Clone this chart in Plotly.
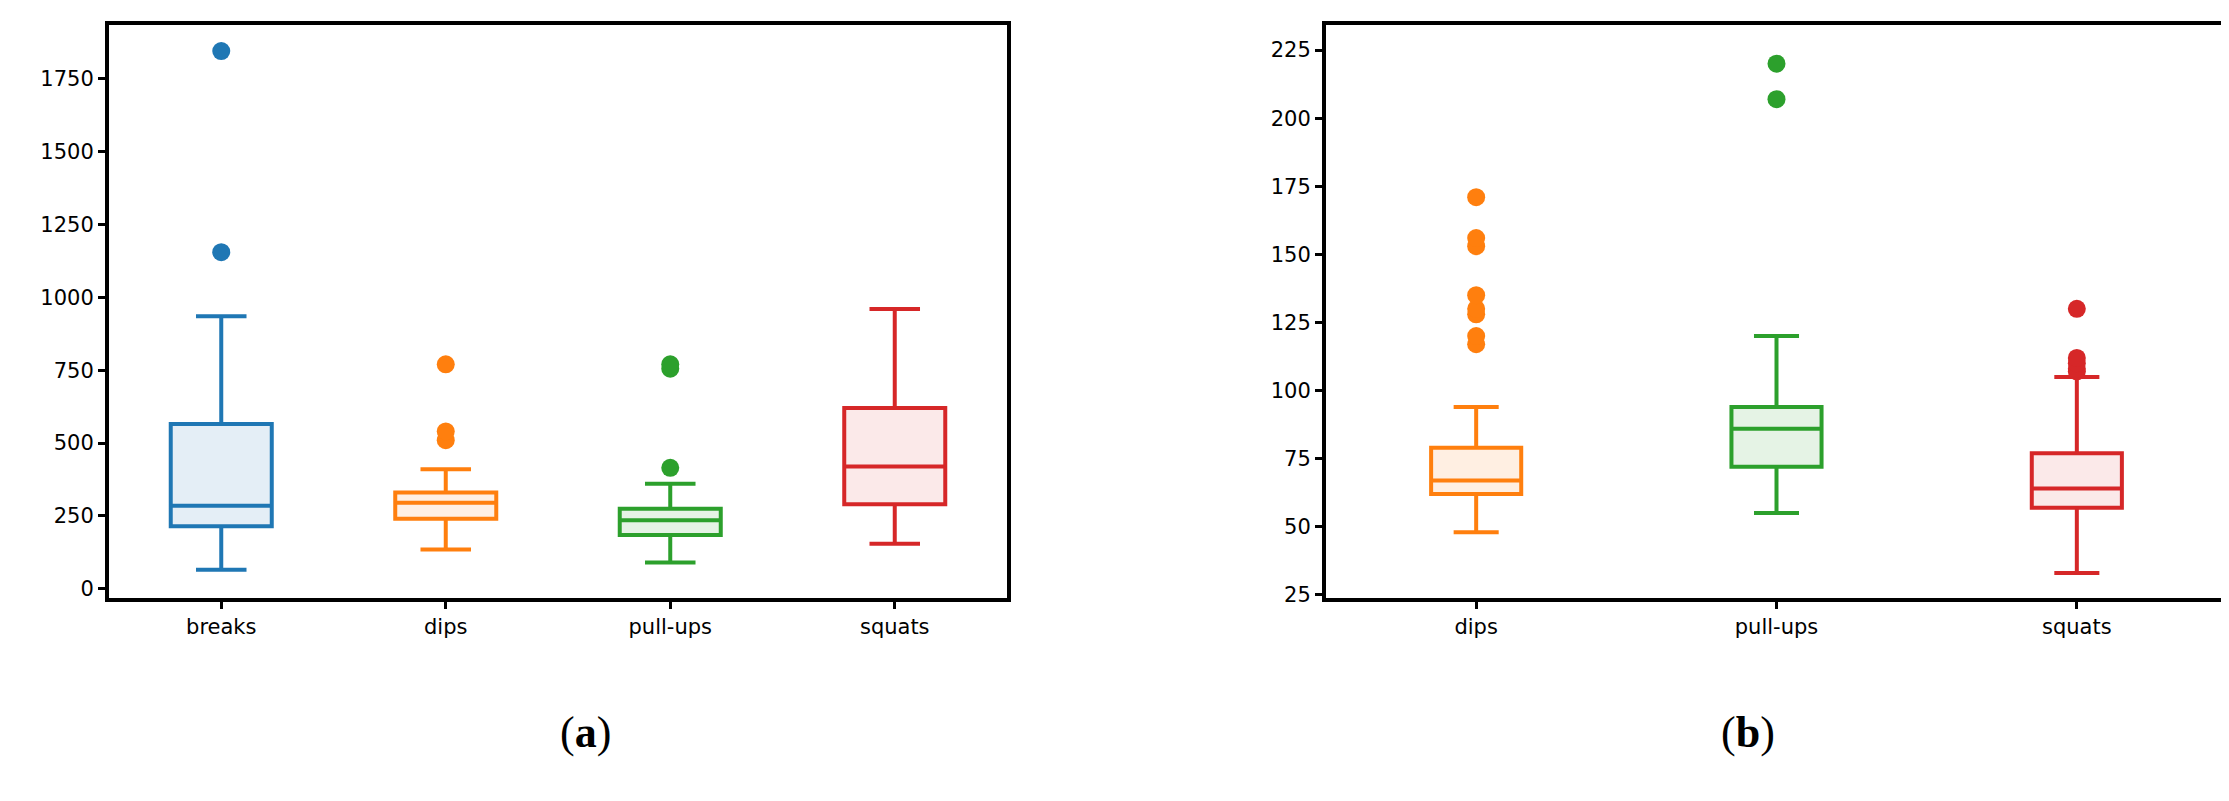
import plotly.graph_objects as go

cats_a = ["breaks", "dips", "pull-ups", "squats"]
low_a = [65, 135, 90, 155]
q1_a = [215, 240, 185, 290]
med_a = [285, 295, 235, 420]
q3_a = [565, 330, 275, 620]
high_a = [935, 410, 360, 960]
out_a = [[1155, 1845], [510, 540, 770], [415, 755, 770], []]

cats_b = ["dips", "pull-ups", "squats"]
low_b = [48, 55, 33]
q1_b = [62, 72, 57]
med_b = [67, 86, 64]
q3_b = [79, 94, 77]
high_b = [94, 120, 105]
out_b = [[117, 120, 128, 130, 135, 153, 156, 171], [207, 220], [107, 108, 110, 112, 130]]

colors = {"breaks": "#1f77b4", "dips": "#ff7f0e", "pull-ups": "#2ca02c", "squats": "#d62728"}
fills = {"breaks": "rgba(31,119,180,0.12)", "dips": "rgba(255,127,14,0.12)",
         "pull-ups": "rgba(44,160,44,0.12)", "squats": "rgba(214,39,40,0.10)"}

W, H = 2229, 801
fig = go.Figure()

def panel(cats, low, q1, med, q3, high, outs, xa, ya, bw):
    for i, c in enumerate(cats):
        col = colors[c]
        fig.add_trace(go.Box(x=[i], q1=[q1[i]], median=[med[i]], q3=[q3[i]],
                             lowerfence=[low[i]], upperfence=[high[i]],
                             width=bw, fillcolor=fills[c], line=dict(color=col, width=4),
                             boxpoints=False, xaxis=xa, yaxis=ya, showlegend=False,
                             whiskerwidth=0.5))
        if outs[i]:
            fig.add_trace(go.Scatter(x=[i] * len(outs[i]), y=outs[i], mode="markers",
                                     marker=dict(color=col, size=18), xaxis=xa, yaxis=ya,
                                     showlegend=False))

panel(cats_a, low_a, q1_a, med_a, q3_a, high_a, out_a, "x", "y", 0.45)
panel(cats_b, low_b, q1_b, med_b, q3_b, high_b, out_b, "x2", "y2", 0.3)

ax = dict(showline=True, linecolor="black", linewidth=4, mirror=True, ticks="outside",
          ticklen=7, tickwidth=3, tickcolor="black", showgrid=False, zeroline=False,
          tickfont=dict(size=21, color="black", family="DejaVu Sans"))
ydom = [1 - 597 / H, 1 - 17 / H]
fig.update_layout(
    width=W, height=H, margin=dict(l=0, r=0, t=0, b=0),
    plot_bgcolor="white", paper_bgcolor="white",
    xaxis=dict(ax, domain=[101 / W, 999 / W], range=[-0.5, 3.5],
               tickvals=list(range(4)), ticktext=cats_a),
    yaxis=dict(ax, domain=ydom, range=[-30, 1935], tickvals=[0, 250, 500, 750, 1000, 1250, 1500, 1750]),
    xaxis2=dict(ax, domain=[1318 / W, 2219 / W], range=[-0.5, 2.5], anchor="y2",
                tickvals=list(range(3)), ticktext=cats_b),
    yaxis2=dict(ax, domain=ydom, range=[24, 234.3], anchor="x2",
                tickvals=[25, 50, 75, 100, 125, 150, 175, 200, 225]),
    annotations=[
        dict(text="(<b>a</b>)", x=(101 + 999) / 2 / W, y=1 - 760 / H, xref="paper", yref="paper",
             showarrow=False, font=dict(size=44, family="Liberation Serif", color="black")),
        dict(text="(<b>b</b>)", x=(1318 + 2219) / 2 / W, y=1 - 760 / H, xref="paper", yref="paper",
             showarrow=False, font=dict(size=44, family="Liberation Serif", color="black")),
    ],
)
fig.write_html("out.html")
